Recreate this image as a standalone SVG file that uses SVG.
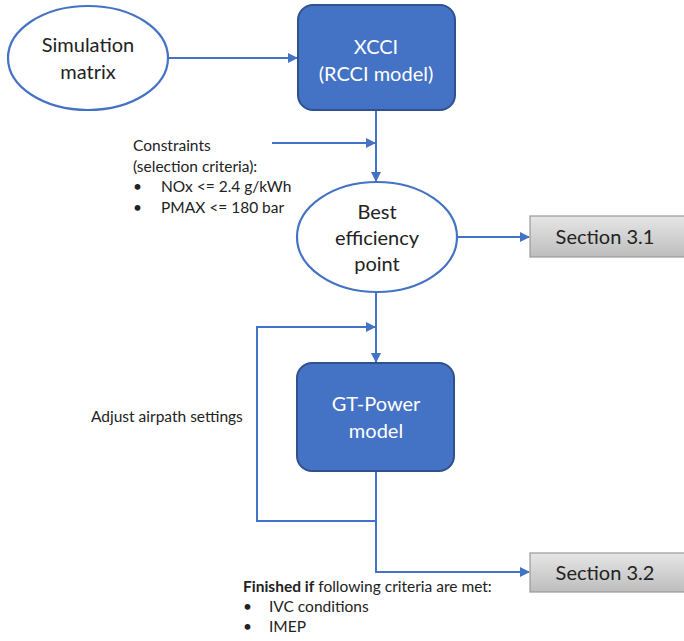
<svg xmlns="http://www.w3.org/2000/svg" width="684" height="641" viewBox="0 0 684 641">
<defs>
<style>
.ell{fill:#fff;stroke:#4472C4;stroke-width:2.2}
.blue{fill:#4472C4;stroke:#2F528F;stroke-width:2}
.gray{fill:url(#g);stroke:#9a9a9a;stroke-width:1.2}
.ln{fill:none;stroke:#4472C4;stroke-width:2}
.t{font-family:Lato,"Open Sans","Liberation Sans",sans-serif;fill:#222}
.big{font-size:20px;text-anchor:middle}
.w{fill:#fff}
.sm{font-size:15.5px}
</style>
<linearGradient id="g" x1="0" y1="0" x2="0" y2="1">
<stop offset="0" stop-color="#e6e6e6"/>
<stop offset="1" stop-color="#bdbdbd"/>
</linearGradient>
<marker id="a" viewBox="0 0 10 10" refX="9" refY="5" markerWidth="5" markerHeight="5" orient="auto">
<path d="M0,0 L10,5 L0,10 z" fill="#4472C4"/>
</marker>
</defs>
<g id="connectors">
<path class="ln" d="M168,58 H297" marker-end="url(#a)"/>
<path class="ln" d="M376,110 V181" marker-end="url(#a)"/>
<path class="ln" d="M272,143 H375" marker-end="url(#a)"/>
<path class="ln" d="M457,237 H529" marker-end="url(#a)"/>
<path class="ln" d="M376,292 V362" marker-end="url(#a)"/>
<path class="ln" d="M376,521 H257 V327 H375" marker-end="url(#a)"/>
<path class="ln" d="M376,471 V572 H529" marker-end="url(#a)"/>
</g>
<g id="simulation-matrix">
<ellipse class="ell" cx="88" cy="58" rx="80" ry="52"/>
<text class="t big" x="88" y="52">Simulation</text>
<text class="t big" x="88" y="79">matrix</text>
</g>
<g id="xcci">
<rect class="blue" x="298" y="5" width="157" height="105" rx="15"/>
<text class="t big w" x="376" y="54" font-size="18">XCCI</text>
<text class="t big w" x="376" y="81">(RCCI model)</text>
</g>
<g id="constraints">
<text class="t sm" x="133" y="151">Constraints</text>
<text class="t sm" x="133" y="172">(selection criteria):</text>
<text class="t sm" x="133" y="192">•</text>
<text class="t sm" x="161" y="192">NOx &lt;= 2.4 g/kWh</text>
<text class="t sm" x="133" y="213">•</text>
<text class="t sm" x="161" y="213">PMAX &lt;= 180 bar</text>
</g>
<g id="best-efficiency-point">
<ellipse class="ell" cx="377" cy="237" rx="80" ry="55"/>
<text class="t big" x="377" y="219">Best</text>
<text class="t big" x="377" y="245">efficiency</text>
<text class="t big" x="377" y="271">point</text>
</g>
<g id="section-3-1">
<rect class="gray" x="530" y="216" width="160" height="41"/>
<text class="t big" x="605" y="244" font-size="19">Section 3.1</text>
</g>
<g id="gt-power">
<rect class="blue" x="297" y="363" width="157" height="108" rx="15"/>
<text class="t big w" x="376" y="411">GT-Power</text>
<text class="t big w" x="376" y="438">model</text>
</g>
<g id="adjust">
<text class="t sm" x="91" y="422">Adjust airpath settings</text>
</g>
<g id="section-3-2">
<rect class="gray" x="530" y="553" width="160" height="39"/>
<text class="t big" x="605" y="580" font-size="19">Section 3.2</text>
</g>
<g id="finished">
<text class="t sm" x="243" y="592"><tspan font-weight="bold">Finished if</tspan> following criteria are met:</text>
<text class="t sm" x="243" y="612">•</text>
<text class="t sm" x="269" y="612">IVC conditions</text>
<text class="t sm" x="243" y="632">•</text>
<text class="t sm" x="269" y="632">IMEP</text>
</g>
</svg>
